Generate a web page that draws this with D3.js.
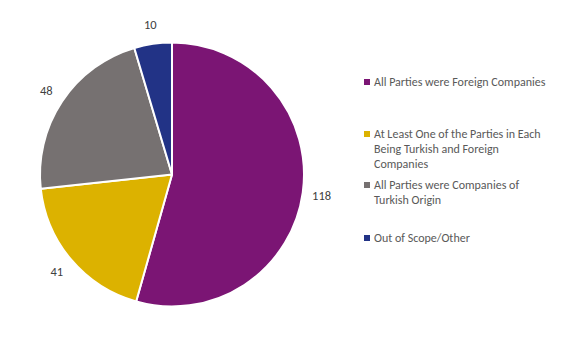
<!DOCTYPE html>
<html><head><meta charset="utf-8">
<script src="https://cdn.jsdelivr.net/npm/d3@7"></script>
<style>body{margin:0;background:#fff}svg{display:block}text{font-family:Carlito,"Open Sans","Liberation Sans",sans-serif}</style>
</head><body><svg id="c" width="586" height="338"></svg>
<script>
const categories = ["All Parties were Foreign Companies","At Least One of the Parties in Each Being Turkish and Foreign Companies","All Parties were Companies of Turkish Origin","Out of Scope/Other"];
const legendLines = [["All Parties were Foreign Companies"],["At Least One of the Parties in Each","Being Turkish and Foreign","Companies"],["All Parties were Companies of","Turkish Origin"],["Out of Scope/Other"]];
const values = [118, 41, 48, 10];
const colors = ["#7B1574","#DCB200","#767171","#223386"];

const svg = d3.select("#c");
const cx = 172, cy = 174.5, R = 132, LR = 151;
const pie = d3.pie().sort(null).value(d => d)(values);
const arc = d3.arc().innerRadius(0).outerRadius(R);
const g = svg.append("g").attr("transform", `translate(${cx},${cy})`);
g.selectAll("path").data(pie).join("path")
  .attr("d", arc).attr("fill", (d,i) => colors[i])
  .attr("stroke", "#fff").attr("stroke-width", 2).attr("stroke-linejoin","round");
const lab = d3.arc().innerRadius(LR).outerRadius(LR);
g.selectAll("text.l").data(pie).join("text").attr("class","l")
  .attr("transform", d => `translate(${lab.centroid(d)})`)
  .attr("text-anchor","middle").attr("dy","0.35em")
  .attr("font-size", 12.5).attr("fill", "#404040")
  .text(d => d.data);

const rows = [82, 134, 185, 238];
const lg = svg.append("g");
legendLines.forEach((lines, i) => {
  lg.append("rect").attr("x", 364).attr("y", rows[i] - 3).attr("width", 6).attr("height", 6).attr("fill", colors[i]);
  const t = lg.append("text").attr("x", 374).attr("y", rows[i]).attr("dy","0.35em")
    .attr("font-size", 12).attr("fill", "#595959");
  lines.forEach((s, j) => t.append("tspan").attr("x", 374).attr("dy", j === 0 ? "0.35em" : "14.8").text(s));
});
</script></body></html>
